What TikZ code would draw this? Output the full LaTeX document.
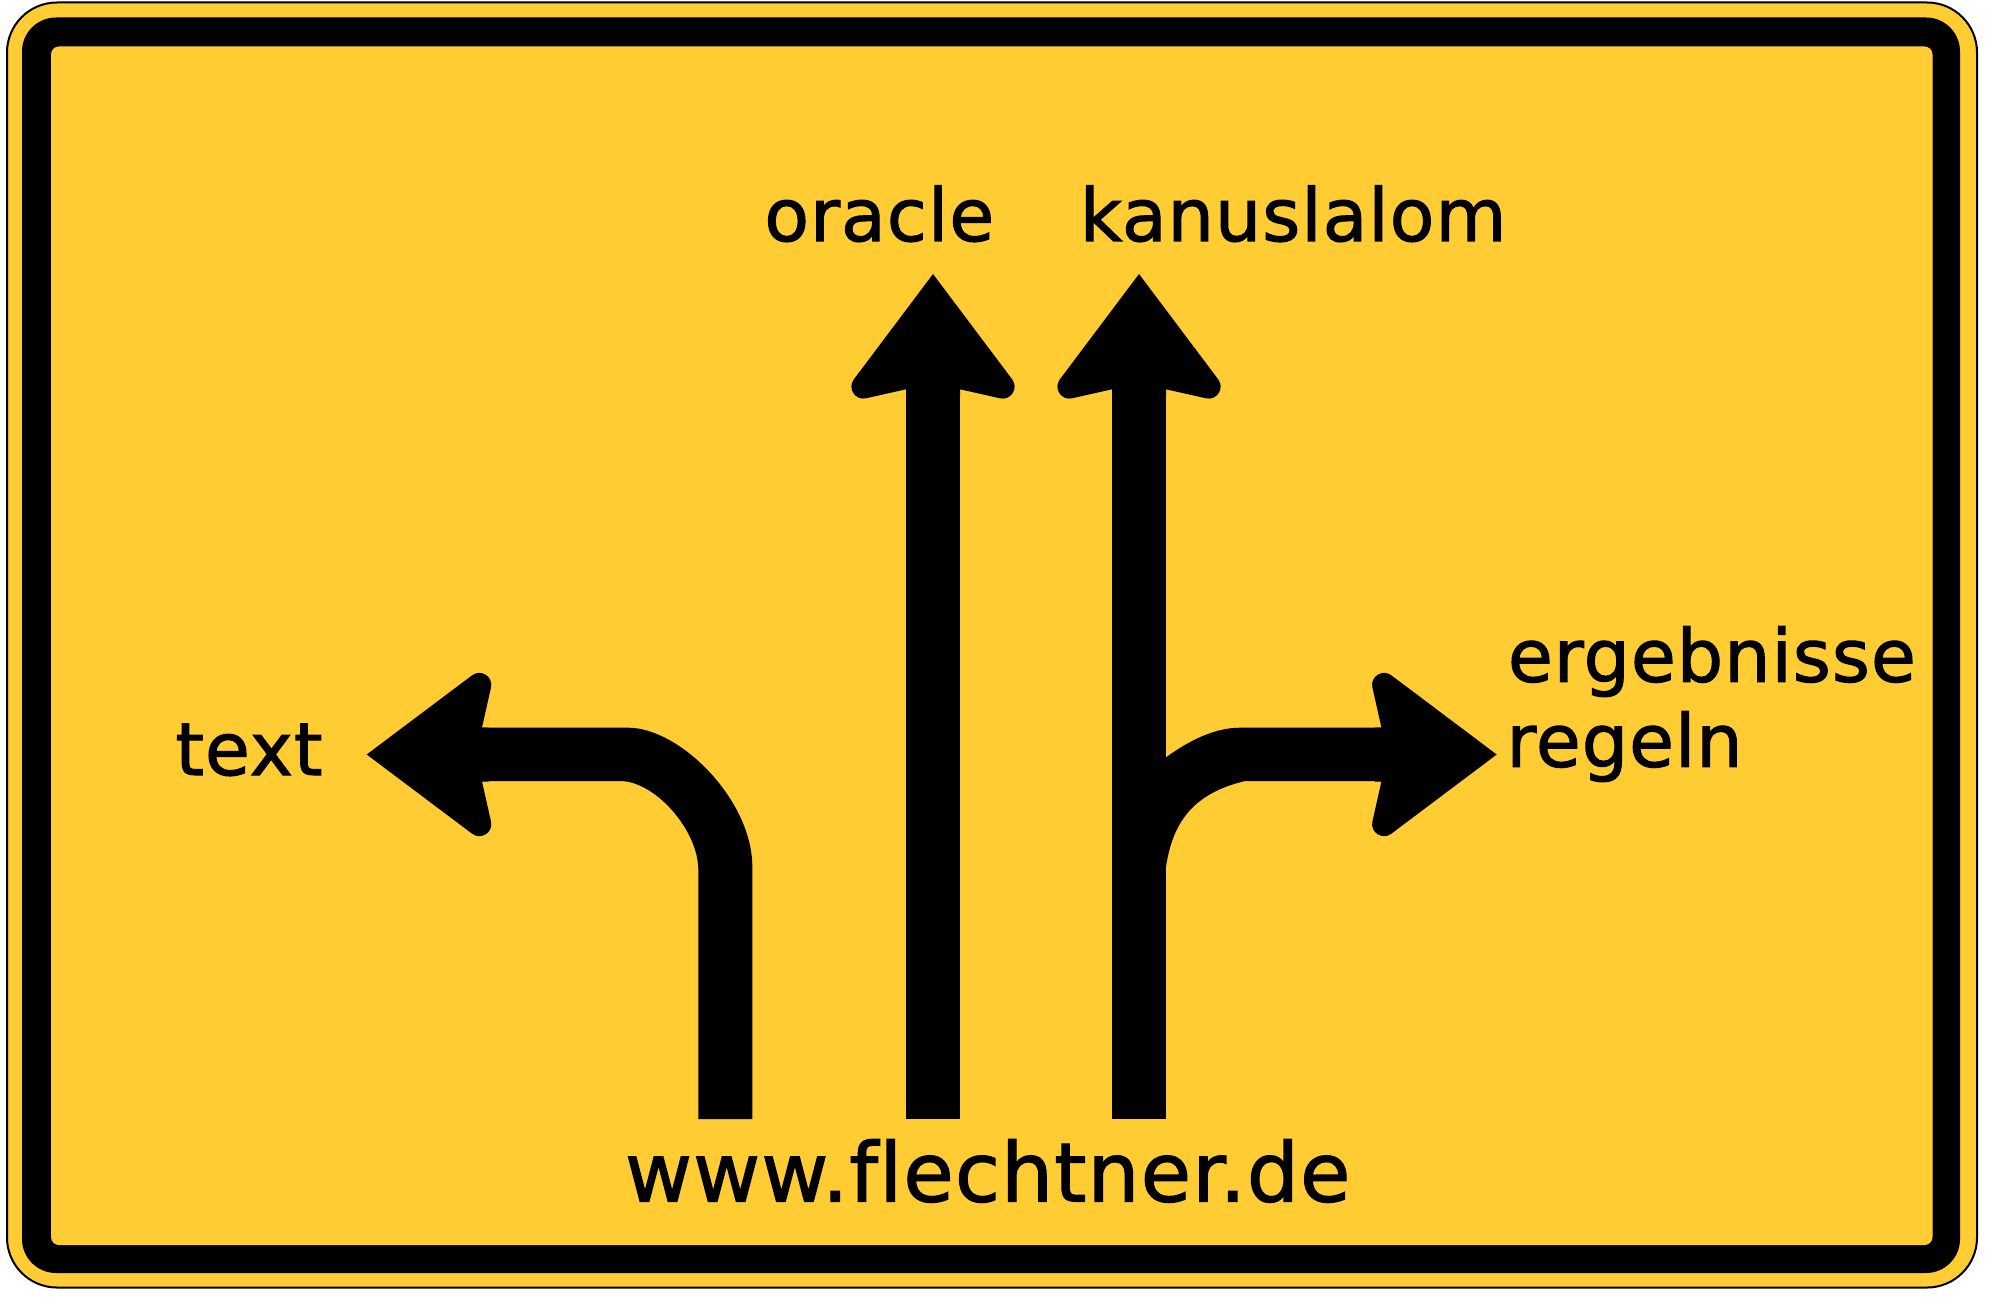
\documentclass[tikz,border=0pt]{standalone}
\usepackage{fontspec}
\setmainfont{DejaVu Sans}[FakeBold=1.5, LetterSpace=1.4, Ligatures=NoCommon]
\definecolor{signyellow}{RGB}{255,204,51}
\tikzset{
  lbl/.style={font=\fontsize{36.5}{42.5}\selectfont, inner sep=0pt, anchor=base west, text=black},
  arrowhead/.pic={
    \fill (0,0) -- (-79.2,105.4) .. controls (-85.9,114.3) and (-77.9,126.8) .. (-67,124.3)
      -- (-27,115.3) -- (-27,122) -- (27,122) -- (27,115.3)
      -- (67,124.3) .. controls (77.9,126.8) and (85.9,114.3) .. (79.2,105.4) -- cycle;
  }
}
\begin{document}
\begin{tikzpicture}[x=0.5pt,y=-0.5pt]
\useasboundingbox (0,0) rectangle (2000,1304);
% sign frame
\draw[fill=signyellow, line width=1pt, rounded corners=25pt] (7,2.5) rectangle (1977,1287.5);
\fill[black, rounded corners=17pt] (22,17.5) rectangle (1960,1273);
\fill[signyellow, rounded corners=4pt] (51,46.5) rectangle (1932.5,1245);
% straight shafts
\fill (906,385) rectangle (960,1119);
\fill (1112,385) rectangle (1166,1119);
% left turning band
\fill (478,727.7) -- (628,727.7) .. controls (680,727.7) and (752.3,800) .. (752.3,866.7)
  -- (752.3,1119) -- (698.3,1119) -- (698.3,870) .. controls (698.3,830) and (655,781) .. (620,781)
  -- (478,781) -- cycle;
% right branch
\fill (1160,760) -- (1166,757.3) .. controls (1190,740) and (1215,727.7) .. (1240,727.7)
  -- (1386,727.7) -- (1386,781) -- (1245,781) .. controls (1195,793) and (1173,820) .. (1166,866.7)
  -- (1160,866.7) -- cycle;
% arrow heads
\pic at (933,274) {arrowhead};
\pic at (1139,274) {arrowhead};
\pic[rotate=90] at (366.7,754.5) {arrowhead};
\pic[rotate=-90] at (1496.7,754.5) {arrowhead};
% labels
\node[lbl] (oracle) at (764,241) {oracle};
\node[lbl] (kanu) at (1079.5,241) {kanuslalom};
\node[lbl] (txt) at (175,775) {text};
\node[lbl] (erg) at (1507.5,681.7) {ergebnisse};
\node[lbl] (reg) at (1506,766.7) {regeln};
\node[lbl, font=\fontsize{41}{48}\selectfont] (www) at (624.6,1201.5) {www.flechtner.de};
\end{tikzpicture}
\end{document}
